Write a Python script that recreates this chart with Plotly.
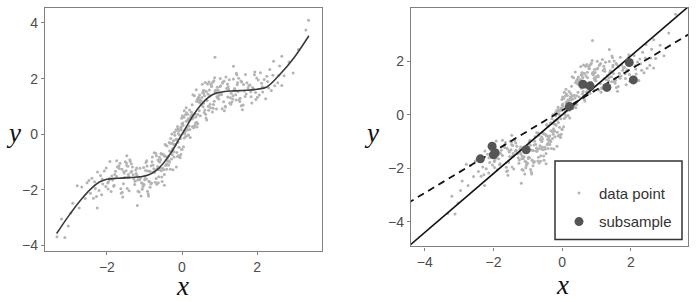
import plotly.graph_objects as go

# ---------------- data ----------------
data_x = [
    # centre band
    0.03, -0.12, 0.27, -0.34, 0.15, -0.05, 0.41, -0.22, 0.08, -0.44, 0.36, -0.17, 0.22, -0.29, 0.47,
    -0.08, 0.11, -0.38, 0.31, -0.02, 0.19, -0.47, 0.05, -0.25, 0.44, -0.14, 0.33, -0.41, 0.00, -0.31,
    0.24, -0.10, 0.39, -0.20, 0.13, -0.49, 0.29, -0.06, 0.17, -0.36, 0.49, -0.13, 0.07, -0.27, 0.42,
    -0.01, 0.26, -0.43, 0.10, -0.19,
    -0.32, 0.21, -0.07, 0.35, -0.45, 0.04, -0.23, 0.46, -0.11, 0.28, -0.39, 0.14, -0.03, 0.38, -0.28,
    0.09, -0.16, 0.32, -0.48, 0.18, -0.09, 0.43, -0.35, 0.01, -0.21, 0.25, -0.42, 0.12, -0.15, 0.48,
    -0.04, 0.34, -0.26, 0.06, -0.37, 0.20, -0.18, 0.40, -0.46, 0.16, -0.12, 0.30, -0.33, 0.02, -0.24,
    0.37, -0.40, 0.23, -0.01, 0.45,
    0.06, -0.30, 0.19, -0.08, 0.35, -0.19, 0.11, -0.41, 0.27, -0.04, 0.42, -0.27, 0.00, -0.14, 0.31,
    -0.36, 0.15, -0.22, 0.47, -0.47, 0.09, -0.11, 0.24, -0.33, 0.39, -0.02, 0.17, -0.25, 0.44, -0.44,
    # 0.5 .. 1.0
    0.53, 0.71, 0.88, 0.57, 0.95, 0.64, 0.79, 0.51, 0.99, 0.68, 0.84, 0.60, 0.92, 0.74, 0.55,
    0.86, 0.62, 0.97, 0.76, 0.58, 0.90, 0.66, 0.82, 0.52, 0.94, 0.70, 0.87, 0.56, 0.78, 0.63,
    0.96, 0.73, 0.59, 0.85, 0.67, 0.98, 0.54, 0.81, 0.69, 0.91, 0.61, 0.77, 0.93, 0.65, 0.83,
    0.72, 0.57, 0.89, 0.75, 0.60, 0.88,
    # -1.0 .. -0.5
    -0.52, -0.69, -0.86, -0.58, -0.94, -0.63, -0.77, -0.99, -0.55, -0.81, -0.66, -0.91, -0.53, -0.74, -0.88,
    -0.61, -0.96, -0.71, -0.57, -0.84, -0.67, -0.93, -0.51, -0.79, -0.62, -0.97, -0.73, -0.56, -0.89, -0.65,
    -0.82, -0.54, -0.95, -0.70, -0.87, -0.60, -0.76, -0.92, -0.59, -0.83, -0.68, -0.98, -0.75, -0.64, -0.90,
    -0.55, -0.80, -0.72, -0.85, -0.61,
    # 1.0 .. 1.5
    1.03, 1.27, 1.41, 1.12, 1.36, 1.07, 1.48, 1.19, 1.31, 1.02, 1.44, 1.23, 1.15, 1.38, 1.09,
    1.29, 1.46, 1.05, 1.33, 1.21, 1.40, 1.13, 1.26, 1.49, 1.01, 1.35, 1.17, 1.43, 1.08, 1.30,
    1.24, 1.47, 1.11, 1.37, 1.04, 1.22, 1.45, 1.16, 1.37,
    # -1.5 .. -1.0
    -1.02, -1.26, -1.43, -1.11, -1.35, -1.06, -1.49, -1.18, -1.32, -1.03, -1.45, -1.22, -1.14, -1.39, -1.08,
    -1.28, -1.47, -1.04, -1.34, -1.20, -1.41, -1.12, -1.25, -1.48, -1.01, -1.36, -1.16, -1.44, -1.09, -1.30,
    -1.23, -1.46, -1.13, -1.38, -1.05, -1.21, -1.42, -1.17, -1.19, -1.47,
    # 1.5 .. 2.0
    1.52, 1.78, 1.63, 1.91, 1.57, 1.84, 1.69, 1.96, 1.54, 1.73, 1.88, 1.61, 1.99, 1.66, 1.81,
    1.55, 1.93, 1.71, 1.59, 1.86, 1.76, 1.64, 1.97, 1.51, 1.83, 1.68, 1.94, 1.58,
    # -2.0 .. -1.5
    -1.53, -1.79, -1.62, -1.92, -1.56, -1.85, -1.68, -1.97, -1.55, -1.74, -1.89, -1.60, -1.98, -1.65, -1.82,
    -1.54, -1.94, -1.72, -1.58, -1.87, -1.77, -1.63, -1.96, -1.51, -1.81, -1.67, -1.93, -1.59, -1.74,
    # 2.0 .. 2.5
    2.03, 2.06, 2.12, 2.09, 2.15, 2.19, 2.23, 2.26, 2.31, 2.34, 2.38, 2.42, 2.44, 2.47, 2.14, 2.01, 2.28,
    # -2.5 .. -2.0
    -2.03, -2.07, -2.11, -2.14, -2.17, -2.21, -2.25, -2.28, -2.33, -2.36, -2.40, -2.44, -2.26, -2.48, -2.13, -2.02, -2.31,
    # tails
    2.55, 2.60, 2.66, 2.66, 2.72, 2.85, 2.96, 3.10, 3.30, 3.37, 2.58,
    -3.33, -3.12, -3.03, -3.21, -2.79, -2.74, -2.91, -2.67, -2.58, -2.53, -2.96,
]
data_y = [
    # centre band
    0.32, -0.80, 0.68, -0.30, 0.15, -0.85, 1.25, -0.36, 0.08, -0.39, 0.40, -0.20, -0.12, -0.64, 1.41,
    -0.47, 0.95, -0.97, 0.23, 0.26, 0.55, -1.83, 0.61, -0.59, 1.17, -0.66, 1.38, -1.07, 0.37, -1.26,
    0.63, 0.03, 0.43, 0.07, 0.23, -1.28, 1.42, -0.80, 0.56, -0.79, 0.66, 0.14, 0.02, -0.32, 0.38,
    0.57, 0.55, -0.80, -0.08, -0.04,
    -0.32, 0.17, -0.03, 0.73, -0.37, -0.45, -0.23, 0.84, 0.19, 0.27, -0.85, 0.49, -0.73, 1.60, -0.89,
    0.14, 0.16, 0.29, -0.75, 0.49, -0.77, 1.30, -0.95, 0.66, -0.82, 0.79, -0.93, 0.77, -1.18, 1.12,
    0.22, 0.29, -0.73, 0.84, -1.11, 0.87, -0.39, 0.26, -0.79, -0.03, 0.28, 0.58, -0.60, 0.40, -1.28,
    0.62, -0.42, 0.59, -0.54, 1.22,
    -0.14, -0.15, 0.30, 0.13, 0.31, -0.37, 0.47, -1.26, 1.06, -0.15, 0.71, 0.01, -0.55, -0.18, 0.71,
    -1.11, 0.72, -0.62, 1.25, -1.45, 0.70, -0.29, 0.66, -1.00, 1.19, 0.16, -0.04, -0.52, 1.33, -1.12,
    # 0.5 .. 1.0
    1.32, 0.86, 1.52, 1.57, 1.30, 0.58, 1.72, 1.20, 1.42, 1.81, 1.07, 1.38, 0.91, 1.38, 1.49,
    1.19, 1.86, 1.38, 0.95, 1.46, 1.57, 0.51, 1.87, 1.06, 1.69, 1.01, 2.03, 0.99, 1.73, 0.72,
    1.58, 1.59, 0.78, 1.92, 1.21, 1.27, 1.80, 0.80, 1.45, 1.48, 0.87, 1.80, 1.35, 1.54, 0.93,
    1.88, 1.11, 1.58, 1.08, 1.56, 2.77,
    # -1.0 .. -0.5
    -0.72, -1.59, -1.33, -1.21, -0.95, -1.74, -1.11, -1.64, -0.71, -1.75, -1.26, -1.32, -1.70, -0.67, -1.69,
    -1.28, -1.02, -1.73, -0.91, -1.35, -1.80, -1.14, -1.22, -0.82, -1.53, -1.30, -1.37, -0.69, -2.22, -1.16,
    -1.13, -1.54, -1.61, -0.68, -1.71, -0.83, -1.36, -2.05, -1.00, -1.79, -0.77, -1.59, -1.24, -0.93, -2.14,
    -1.31, -0.99, -1.28, -1.91, -0.98,
    # 1.0 .. 1.5
    1.74, 1.12, 1.61, 1.91, 1.38, 0.92, 1.85, 1.65, 1.47, 2.00, 1.23, 1.71, 1.01, 1.57, 1.87,
    1.31, 2.14, 1.42, 1.16, 1.81, 1.64, 0.84, 1.96, 1.54, 1.71, 1.27, 2.06, 1.42, 1.84, 1.08,
    1.62, 1.78, 1.17, 1.99, 1.47, 1.34, 2.19, 0.98, 2.44,
    # -1.5 .. -1.0
    -1.20, -1.81, -1.45, -1.57, -1.06, -1.98, -1.31, -1.65, -1.18, -1.84, -1.55, -1.41, -2.08, -0.92, -1.74,
    -1.61, -1.12, -1.89, -1.33, -1.48, -2.03, -1.22, -1.69, -1.03, -1.81, -1.37, -1.55, -1.15, -2.22, -1.46,
    -1.29, -1.95, -1.64, -0.97, -1.77, -1.21, -1.54, -2.05, -2.56, -0.77,
    # 1.5 .. 2.0
    1.24, 1.75, 1.05, 1.63, 1.91, 1.35, 2.15, 1.50, 1.18, 1.85, 1.68, 0.88, 2.02, 1.55, 1.77,
    1.29, 2.14, 1.45, 1.88, 1.12, 1.66, 1.79, 1.25, 2.01, 1.53, 1.36, 2.24, 1.02,
    # -2.0 .. -1.5
    -1.56, -1.45, -2.12, -0.98, -1.78, -1.65, -1.13, -1.97, -1.35, -1.52, -2.06, -1.26, -1.75, -1.04, -1.87,
    -1.39, -1.63, -1.18, -2.26, -1.50, -1.33, -1.96, -1.72, -0.99, -1.83, -1.23, -1.59, -2.09, -0.95,
    # 2.0 .. 2.5
    1.95, 1.41, 1.83, 2.21, 1.52, 1.97, 1.28, 2.08, 1.66, 2.33, 1.57, 2.12, 2.62, 1.74, 1.71, 1.33, 1.90,
    # -2.5 .. -2.0
    -1.88, -1.32, -1.79, -2.18, -1.48, -2.02, -1.36, -2.24, -1.71, -2.30, -1.58, -2.12, -2.65, -1.66, -1.61, -1.21, -1.95,
    # tails
    1.85, 2.45, 1.75, 2.80, 2.10, 2.60, 2.20, 3.05, 3.75, 4.10, 2.12,
    -3.69, -3.71, -3.30, -3.05, -1.85, -2.65, -2.48, -1.90, -2.31, -1.74, -2.83,
]

# fitted smooth curve (left panel)
curve_x = [-3.34, -3.00, -2.67, -2.40, -2.20, -2.00, -1.70, -1.40, -1.10, -0.90, -0.70, -0.50, -0.30, -0.10,
           0.10, 0.30, 0.50, 0.70, 0.90, 1.10, 1.40, 1.70, 2.00, 2.26, 2.60, 3.00, 3.38]
curve_y = [-3.57, -2.90, -2.32, -1.93, -1.72, -1.62, -1.58, -1.56, -1.53, -1.47, -1.32, -1.05, -0.68, -0.23,
           0.23, 0.68, 1.05, 1.32, 1.47, 1.53, 1.56, 1.58, 1.62, 1.70, 2.14, 2.78, 3.54]

# subsample (right panel)
sub_x = [-2.38, -2.04, -2.00, -1.95, -1.05, 0.21, 0.60, 0.81, 1.30, 1.95, 2.07]
sub_y = [-1.65, -1.18, -1.50, -1.42, -1.31, 0.31, 1.14, 1.08, 1.02, 1.95, 1.30]

# reference lines (right panel): endpoints
line_x = [-4.50, 3.70]
solid_y = [-4.95, 4.07]
dashed_y = [-3.31, 3.02]

# axis ticks
left_xticks = [-2, 0, 2]
left_yticks = [-4, -2, 0, 2, 4]
right_xticks = [-4, -2, 0, 2]
right_yticks = [-4, -2, 0, 2]

# ---------------- figure ----------------
W, H = 696, 302
fig = go.Figure()

PT_COLOR = "#b4b4b4"
fig.add_trace(go.Scatter(x=data_x, y=data_y, mode="markers", xaxis="x", yaxis="y",
                         marker=dict(size=3, color=PT_COLOR), showlegend=False))
fig.add_trace(go.Scatter(x=curve_x, y=curve_y, mode="lines", xaxis="x", yaxis="y",
                         line=dict(color="#3a3a3a", width=1.6, shape="spline", smoothing=1.0),
                         showlegend=False))

fig.add_trace(go.Scatter(x=data_x, y=data_y, mode="markers", xaxis="x2", yaxis="y2",
                         marker=dict(size=3, color=PT_COLOR), name="data point",
                         legendgroup="a", showlegend=True))
fig.add_trace(go.Scatter(x=line_x, y=solid_y, mode="lines", xaxis="x2", yaxis="y2",
                         line=dict(color="#111111", width=1.6), showlegend=False))
fig.add_trace(go.Scatter(x=line_x, y=dashed_y, mode="lines", xaxis="x2", yaxis="y2",
                         line=dict(color="#111111", width=1.8, dash="7px,5px"), showlegend=False))
fig.add_trace(go.Scatter(x=sub_x, y=sub_y, mode="markers", xaxis="x2", yaxis="y2",
                         marker=dict(size=9, color="#555555"), name="subsample",
                         legendgroup="b", showlegend=True))

AX = dict(showgrid=False, zeroline=False, showline=True, mirror=True, linecolor="#808080",
          linewidth=1.3, ticks="outside", ticklen=3, tickcolor="#808080", tickwidth=1,
          tickfont=dict(family="Liberation Sans, Arial", size=14, color="#4d4d4d"))

fig.update_layout(
    width=W, height=H, margin=dict(l=0, r=0, t=0, b=0),
    paper_bgcolor="white", plot_bgcolor="white",
    xaxis=dict(AX, domain=[45 / W, 322 / W], range=[-3.65, 3.73], tickvals=left_xticks, anchor="y"),
    yaxis=dict(AX, domain=[1 - 253 / H, 1 - 8 / H], range=[-4.21, 4.54], tickvals=left_yticks, anchor="x"),
    xaxis2=dict(AX, domain=[411 / W, 688 / W], range=[-4.40, 3.66], tickvals=right_xticks, anchor="y2"),
    yaxis2=dict(AX, domain=[1 - 248 / H, 1 - 8 / H], range=[-4.92, 3.99], tickvals=right_yticks, anchor="x2"),
    legend=dict(x=559 / W, y=1 - 178 / H, xanchor="left", yanchor="top",
                bgcolor="rgba(0,0,0,0)", borderwidth=0, tracegroupgap=6,
                font=dict(family="Liberation Sans, Arial", size=15, color="#333333"),
                itemsizing="trace"),
    shapes=[dict(type="rect", xref="paper", yref="paper",
                 x0=555 / W, x1=682 / W, y0=1 - 241 / H, y1=1 - 162 / H,
                 line=dict(color="#333333", width=1.5), fillcolor="white", layer="below")],
)

TITLE_FONT = dict(family="Liberation Serif, DejaVu Serif, serif", size=27, color="#111111")
for (tx, ty, t) in [(13, 134, "y"), (371, 134, "y"), (182, 288, "x"), (562, 287, "x")]:
    fig.add_annotation(x=tx / W, y=1 - ty / H, xref="paper", yref="paper", text="<i>%s</i>" % t,
                       showarrow=False, font=TITLE_FONT, xanchor="center", yanchor="middle")

fig.write_html("out.html", config={"displayModeBar": False},
               post_script="document.body.style.margin='0';")
